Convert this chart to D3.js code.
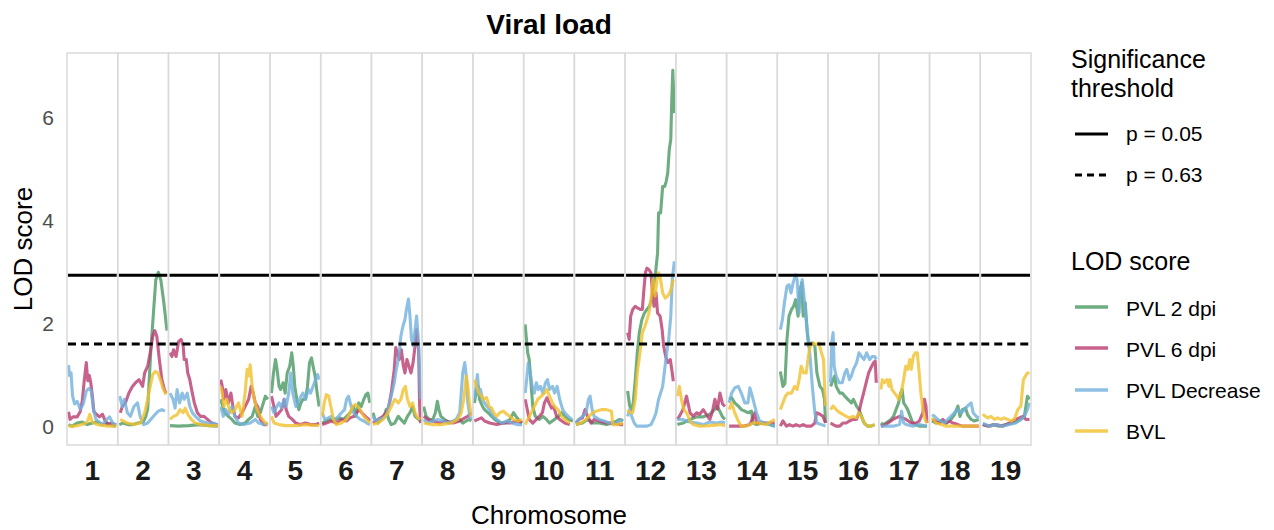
<!DOCTYPE html>
<html><head><meta charset="utf-8">
<script src="https://cdn.jsdelivr.net/npm/d3@7"></script>
<style>
body{margin:0;background:#fff}
svg{display:block}
text{font-family:"Liberation Sans",Arial,Helvetica,sans-serif}
</style>
</head><body><svg id="c" width="1274" height="530"></svg>
<script>
const chromosomes = d3.range(1, 20).map(String);
const yTicks = [0, 2, 4, 6];
const thresholdLabels = ["p = 0.05", "p = 0.63"];
const thresholdValues = [2.94, 1.61];
const seriesNames = ["PVL 2 dpi", "PVL 6 dpi", "PVL Decrease", "BVL"];
const seriesColors = ["#4a9862", "#b93b6f", "#70b0dc", "#f1c02c"];

// each chromosome: flat list of (position % along chromosome, LOD score)
const pvl2dpi = [
 [3,.05,10,.02,20,.08,30,.1,40,.05,50,.08,60,.1,70,.05,80,.08,90,.03,97,.02],
 [3,.05,10,.08,20,.05,30,.05,40,.08,50,.1,55,.2,59,.35,65,1.45,71,2.3,75,2.85,80,3.0,85,2.85,91,2.4,97,1.87],
 [3,.03,20,.02,40,.03,60,.05,80,.03,97,.02],
 [3,.54,7,.4,11,.28,18,.21,25,.15,31,.08,41,.05,51,.08,58,.15,65,.21,71,.4,76,.21,81,.28,87,.47,91,.6,96,.54],
 [3,.66,7,1.05,11,1.31,14,1.12,18,.79,21,.73,26,.86,30,.66,34,1.05,39,1.18,43,1.44,46,1.18,49,.79,53,.54,57,.34,61,.47,65,.54,70,.54,74,.79,78,1.25,82,1.34,85,1.18,89,.99,93,.66,97,.4],
 [3,.08,11,.12,18,.15,25,.12,31,.15,38,.18,45,.15,51,.21,58,.28,65,.4,69,.21,75,.47,80,.4,85,.54,89,.63,93,.66,97,.47],
 [3,.28,7,.15,13,.08,19,.15,25,.21,29,.34,34,.15,39,.05,46,.08,53,.21,58,.15,65,.08,71,.21,76,.28,81,.4,86,.21,93,.15,97,.12],
 [3,.4,8,.21,14,.15,21,.15,26,.28,30,.5,33,.34,37,.21,44,.15,54,.08,64,.12,74,.15,80,.08,87,.12,93,.15,97,.12],
 [3,.47,7,.73,10,.79,13,.54,19,.4,23,.34,30,.28,37,.21,43,.15,53,.08,63,.08,73,.15,80,.28,85,.21,92,.12,97,.08],
 [3,1.99,5,1.76,8,1.44,11,1.31,15,.79,18,.4,23,.21,31,.15,38,.21,45,.15,51,.08,61,.15,68,.21,75,.28,81,.21,88,.15,97,.12],
 [3,.05,16,.08,26,.15,36,.08,49,.08,63,.05,76,.08,89,.15,96,.12],
 [5,.7,9,.41,13,.34,16,.47,20,.92,24,1.44,28,1.83,33,2.08,38,2.21,43,2.28,48,2.34,52,2.47,56,2.73,60,2.99,64,3.37,66,4.15,70,4.15,74,4.66,78,4.66,81,4.76,84,4.92,87,5.37,90,5.57,92,6.34,94,6.91,97,6.08],
 [3,.05,14,.08,28,.15,41,.2,54,.2,67,.25,77,.35,82,.4,87,.3,92,.2,97,.15],
 [5,.54,10,.57,16,.47,23,.41,29,.34,36,.31,42,.28,49,.31,52,.08,59,.05,72,.08,85,.05,95,.02],
 [6,1.08,11,.79,15,.85,19,1.7,23,2.15,28,2.28,32,2.34,36,2.47,41,2.15,44,2.6,48,2.79,51,2.15,55,2.41,59,1.83,62,1.57,66,1.63,70,1.63,74,1.57,78,1.05,84,.79,89,.73,93,.54,95,.08],
 [5,.79,10,.92,13,.99,16,.79,23,.66,28,.66,33,.6,39,.54,46,.47,50,.54,56,.41,61,.34,66,.21,71,.08,78,.02,85,.02,92,.05],
 [4,.08,9,.05,14,.08,20,.12,24,.15,29,.21,34,.34,39,.47,43,.66,46,.73,49,.47,53,.41,57,.34,62,.21,67,.08,72,.05,80,.02,90,.02,95,.02],
 [5,.12,13,.08,23,.12,33,.08,42,.15,49,.24,56,.41,60,.21,65,.34,71,.37,75,.24,82,.15,88,.12,97,.15],
 [5,.05,15,.02,24,.05,37,.02,51,.05,64,.08,74,.12,80,.15,87,.21,93,.6,97,.54]
];
const pvl6dpi = [
 [3,.3,6,.15,12,.2,20,.2,26,.3,30,.5,34,.9,38,1.25,41,.9,44,1.0,47,.85,50,.6,53,.3,58,.25,64,.2,70,.25,74,.15,80,.05,88,.08,94,.05,97,.05],
 [5,.28,9,.4,15,.47,22,.66,29,.79,35,.86,42,.92,49,.79,53,1.05,59,1.18,64,1.44,69,1.76,73,1.87,77,1.76,82,1.31,87,.92,92,.73,95,.66],
 [3,1.44,7,1.37,10,1.5,15,1.37,20,1.66,25,1.7,29,1.57,31,1.31,35,1.31,38,1.05,42,.92,47,.66,51,.47,57,.28,63,.21,70,.21,77,.15,85,.08,93,.05,97,.05],
 [3,.92,6,.79,9,.54,13,.73,18,.47,23,.66,27,.4,31,.21,38,.18,45,.28,51,.4,58,.54,63,.79,67,.66,71,.47,76,.4,81,.15,88,.05,95,.05],
 [3,.6,8,.4,12,.21,18,.28,23,.34,28,.54,32,.34,37,.21,44,.15,51,.08,60,.05,70,.08,80,.05,90,.05,97,.08],
 [3,.05,11,.08,21,.12,31,.08,41,.15,51,.12,58,.18,65,.21,71,.28,76,.34,81,.28,88,.21,95,.15,97,.12],
 [3,.08,13,.15,23,.21,29,.28,34,.4,39,.66,45,1.12,48,1.54,51,1.44,55,1.31,59,1.5,63,1.18,66,1.05,70,1.31,74,1.18,78,1.05,82,1.24,86,1.57,89,1.89,93,1.5,95,.4,97,.08],
 [3,.21,11,.15,21,.12,34,.08,47,.12,61,.08,74,.12,84,.18,90,.21,97,.28],
 [3,.12,10,.15,17,.18,23,.12,33,.08,47,.05,60,.08,73,.08,87,.12,97,.08],
 [3,.54,6,.4,11,.15,18,.08,25,.15,31,.21,37,.28,41,.47,46,.57,50,.47,55,.37,59,.4,65,.21,71,.15,81,.08,91,.05],
 [3,.08,9,.15,16,.18,21,.34,26,.21,33,.08,39,.15,49,.12,63,.08,76,.08,89,.05,96,.05],
 [5,1.83,8,1.7,11,2.15,15,2.28,20,2.34,24,2.31,30,2.28,34,2.28,37,2.66,40,2.99,43,3.08,47,3.05,51,2.99,54,2.6,57,2.34,61,2.6,64,2.21,69,2.15,73,1.89,76,1.57,80,1.37,84,1.25,89,1.31,93,1.05,95,.89],
 [3,.15,7,.21,14,.34,21,.6,28,.28,34,.21,41,.28,47,.25,54,.34,60,.25,67,.15,72,.3,77,.54,82,.35,87,.66,92,.45,97,.4],
 [5,.02,20,.02,33,.02,46,.05,56,.28,59,.08,72,.08,85,.08,95,.08],
 [6,.02,11,.12,18,.02,24,.05,31,.02,37,.05,44,.02,51,.05,57,.02,67,.02,74,.08,77,.28,84,.25,90,.21,95,.08],
 [5,.08,10,.05,16,.02,23,.02,29,.08,36,.08,42,.12,49,.15,56,.15,61,.28,65,.47,70,.66,75,.86,80,1.05,86,1.18,90,1.25,93,1.28,95,.86],
 [4,.02,14,.05,28,.15,34,.18,41,.21,47,.18,54,.15,64,.08,74,.08,80,.12,87,.28,90,.54,93,.41,95,.08],
 [5,.15,13,.12,20,.08,26,.15,33,.08,39,.12,46,.08,56,.05,65,.02,75,.02,85,.02,97,.02],
 [5,.05,18,.02,31,.05,44,.02,57,.08,70,.15,77,.18,84,.21,90,.15,97,.15]
];
const pvlDecrease = [
 [3,1.2,5,1.0,8,1.05,11,.6,15,.45,20,.5,26,.35,32,.45,38,.7,43,.75,48,.7,52,.35,57,.15,63,.1,70,.05,78,.15,84,.2,90,.08,97,.05],
 [4,.6,9,.4,13,.54,19,.28,25,.21,32,.4,39,.47,44,.21,51,.05,59,.08,65,.15,73,.24,80,.31,87,.34,93,.31],
 [3,.66,9,.54,13,.37,17,.73,22,.47,27,.66,31,.54,37,.66,42,.4,47,.28,53,.21,63,.12,77,.08,90,.08,97,.05],
 [3,.4,8,.21,13,.34,18,.25,25,.4,31,.21,38,.08,48,.05,61,.08,71,.15,78,.08,88,.05,96,.08],
 [3,.4,8,.28,12,.37,18,.47,23,.37,28,.54,32,.4,37,.66,41,1.05,45,.66,51,.4,56,.47,61,.6,65,.66,70,.54,76,.73,80,.66,85,.79,90,.92,94,1.02,97,.92],
 [3,.28,8,.15,15,.18,21,.21,28,.15,35,.21,41,.28,47,.34,51,.54,55,.6,60,.4,65,.28,71,.21,78,.15,85,.12,91,.08,97,.05],
 [3,.21,9,.12,16,.15,23,.18,29,.21,34,.4,39,.6,45,.86,49,1.12,54,1.37,58,1.76,62,1.95,66,2.08,69,2.28,73,2.48,76,2.15,79,1.7,83,1.57,86,1.89,89,2.15,93,1.63,96,.79,97,.54],
 [3,.15,11,.08,21,.12,31,.15,41,.12,51,.08,61,.12,67,.15,74,.28,77,.66,80,1.05,84,1.25,87,.99,90,.47,94,.21,97,.15],
 [3,.54,7,.86,9,1.02,12,.66,15,.73,19,.54,23,.47,28,.4,33,.34,40,.21,47,.15,57,.08,67,.12,77,.08,87,.05,97,.05],
 [3,.66,6,.92,9,1.24,13,1.05,17,.79,21,.66,25,.86,29,.73,33,.79,38,.66,43,.86,47,.92,51,.73,57,.79,61,.66,66,.79,71,.54,77,.34,81,.28,88,.21,95,.15],
 [3,.08,9,.15,16,.21,23,.28,28,.54,31,.6,35,.34,39,.21,49,.15,59,.12,69,.08,83,.08,96,.15],
 [5,.21,9,.34,13,.21,18,.08,23,.02,33,.02,43,.02,51,.05,56,.15,61,.28,66,.54,70,.66,74,.79,78,1.12,82,1.44,86,1.7,90,2.15,93,2.86,97,3.21],
 [3,.15,14,.15,28,.1,41,.08,54,.05,67,.1,80,.08,90,.1,97,.08],
 [5,.47,10,.66,16,.76,23,.79,29,.66,36,.47,42,.47,46,.76,49,.66,54,.47,59,.28,65,.12,75,.08,85,.05,95,.02],
 [6,1.89,10,2.08,14,2.41,19,2.73,23,2.76,27,2.6,31,2.79,36,2.95,39,2.86,43,2.21,45,2.6,49,2.86,52,2.6,56,2.15,61,1.7,65,1.31,69,.79,74,.28,78,.08,87,.05,95,.02],
 [5,.86,7,1.63,10,1.83,12,1.18,16,.99,22,.86,28,.86,33,1.05,37,1.12,42,.92,46,.99,50,1.12,56,1.24,61,1.44,66,1.37,71,1.31,76,1.44,82,1.31,87,1.37,92,1.37,95,1.31],
 [4,.02,14,.02,28,.02,41,.05,45,.31,49,.08,54,.05,67,.02,80,.05,95,.02],
 [5,.24,10,.21,16,.15,23,.12,29,.08,36,.15,42,.21,49,.28,56,.34,62,.28,69,.34,75,.41,82,.47,86,.28,92,.21,97,.18],
 [5,.08,18,.02,31,.05,44,.02,57,.05,70,.08,80,.15,87,.21,93,.34,97,.47]
];
const bvl = [
 [3,.02,15,.02,30,.05,40,.1,45,.25,50,.1,60,.05,80,.02,97,.02],
 [5,.15,19,.08,32,.05,45,.08,53,.28,59,.54,64,.79,69,1.02,74,1.08,79,1.05,84,.92,89,.76,95,.63],
 [3,.15,10,.21,17,.24,23,.34,29,.28,33,.37,38,.25,45,.15,53,.08,63,.05,83,.03,97,.03],
 [3,.79,6,.66,9,.4,15,.54,20,.34,25,.28,31,.34,38,.47,45,.21,51,.66,55,1.12,58,.99,61,1.21,65,.79,69,.54,75,.34,81,.21,88,.12,95,.05],
 [3,.21,8,.08,18,.05,31,.03,51,.03,70,.05,97,.03],
 [3,.21,7,.47,11,.63,16,.6,20,.4,25,.15,31,.05,41,.08,51,.15,58,.28,63,.4,68,.44,73,.4,78,.34,85,.21,91,.15,97,.08],
 [3,.05,13,.08,23,.15,33,.28,39,.4,46,.54,53,.47,58,.54,63,.73,67,.79,71,.54,76,.4,81,.47,86,.28,91,.18,97,.15],
 [3,.08,18,.05,37,.05,57,.08,70,.15,77,.28,82,.54,87,.99,90,.79,93,.47,97,.21],
 [3,.92,7,.79,12,.66,17,.6,21,.54,27,.57,32,.4,37,.37,41,.28,47,.21,53,.28,60,.31,67,.25,73,.21,80,.15,90,.12,97,.15],
 [3,.05,8,.15,15,.28,21,.4,28,.54,35,.6,41,.66,46,.73,51,.6,57,.47,61,.4,68,.34,75,.21,81,.15,91,.08],
 [3,.05,13,.08,23,.15,29,.21,36,.28,43,.31,53,.34,63,.34,73,.31,76,.05,86,.05,96,.08],
 [5,.34,10,.28,15,.28,20,.54,24,1.05,30,1.5,34,1.83,39,1.95,43,2.08,47,2.21,51,2.47,55,2.86,59,2.54,63,2.86,66,2.99,70,2.86,74,2.6,79,2.5,84,2.54,88,2.6,92,2.73,95,2.86],
 [3,.6,7,.79,11,.54,16,.34,21,.28,28,.12,34,.05,47,.02,67,.03,87,.05,97,.03],
 [5,.34,10,.47,16,.28,23,.12,29,.02,39,.02,52,.08,62,.08,78,.05,95,.15],
 [6,.34,11,.47,16,.6,21,.66,28,.66,34,.79,39,.73,43,.92,47,1.18,52,1.05,57,1.05,61,1.37,65,1.57,70,1.63,77,1.6,82,1.63,87,1.44,91,1.31,95,.41],
 [5,.34,10,.41,16,.34,23,.28,29,.25,36,.21,42,.18,49,.21,56,.18,61,.28,65,.21,72,.08,78,.02,85,.02,92,.05],
 [4,.73,7,.92,11,.86,16,.92,20,.79,22,.92,26,.73,31,.66,36,.6,39,.54,44,.66,49,.92,53,1.18,57,1.12,61,1.31,64,1.12,68,1.37,72,1.44,76,1.44,79,1.12,83,.66,87,.34,91,.15,95,.08],
 [5,.18,13,.08,23,.05,33,.02,46,.02,59,.02,72,.02,85,.02,97,.02],
 [5,.25,10,.21,15,.18,21,.21,28,.15,34,.18,41,.15,47,.18,54,.15,61,.12,67,.15,74,.34,80,.41,85,.92,89,.99,93,1.05,97,1.05]
];

const seriesData = [pvl2dpi, pvl6dpi, pvlDecrease, bvl];
const toPairs = flat => d3.range(0, flat.length, 2).map(i => [flat[i], flat[i + 1]]);

const svg = d3.select("#c");
const plotTop = 53, plotBottom = 445, plotLeft = 67, plotRight = 1031;
const x = d3.scaleBand().domain(chromosomes).range([plotLeft, plotRight]).paddingInner(0).paddingOuter(0);
const y = d3.scaleLinear().domain([-0.345, 7.245]).range([plotBottom, plotTop]);
const px = d3.scaleLinear().domain([0, 100]).range([0, x.bandwidth()]);

const defs = svg.append("defs");
chromosomes.forEach((c, i) => {
  defs.append("clipPath").attr("id", "clip" + i).append("rect")
    .attr("x", x(c)).attr("y", plotTop).attr("width", x.bandwidth()).attr("height", plotBottom - plotTop);
});

// panels
const panels = svg.append("g");
chromosomes.forEach((c, i) => {
  const g = panels.append("g").attr("clip-path", "url(#clip" + i + ")");
  seriesData.forEach((s, k) => {
    const line = d3.line().x(d => x(c) + px(d[0])).y(d => y(d[1]));
    g.append("path").attr("d", line(toPairs(s[i])))
      .attr("fill", "none").attr("stroke", seriesColors[k])
      .attr("stroke-opacity", 0.8).attr("stroke-width", 3.1)
      .attr("stroke-linejoin", "round").attr("stroke-linecap", "butt");
  });
  thresholdValues.forEach((t, j) => {
    g.append("line").attr("x1", x(c) + 1).attr("x2", x(c) + x.bandwidth() - 1)
      .attr("y1", y(t)).attr("y2", y(t))
      .attr("stroke", "#000").attr("stroke-width", 3)
      .attr("stroke-dasharray", j === 1 ? "8,5" : null);
  });
  panels.append("rect").attr("x", x(c)).attr("y", plotTop)
    .attr("width", x.bandwidth()).attr("height", plotBottom - plotTop)
    .attr("fill", "none").attr("stroke", "#dadada").attr("stroke-width", 1.5);
});

// axes
const ya = svg.append("g").attr("transform", `translate(${plotLeft},0)`)
  .call(d3.axisLeft(y).tickValues(yTicks).tickSize(0).tickPadding(13));
ya.select(".domain").remove();
ya.selectAll("text").attr("font-size", 21).attr("fill", "#4d4d4d")
  .attr("font-family", '"Liberation Sans",Arial,sans-serif');

const xa = svg.append("g").attr("transform", `translate(0,${plotBottom})`)
  .call(d3.axisBottom(x).tickSize(0).tickPadding(15));
xa.select(".domain").remove();
xa.selectAll("text").attr("font-size", 28).attr("font-weight", "bold").attr("fill", "#1a1a1a")
  .attr("font-family", '"Liberation Sans",Arial,sans-serif');

// titles
svg.append("text").attr("x", (plotLeft + plotRight) / 2).attr("y", 34).attr("text-anchor", "middle")
  .attr("font-size", 28).attr("font-weight", "bold").text("Viral load");
svg.append("text").attr("x", (plotLeft + plotRight) / 2).attr("y", 524).attr("text-anchor", "middle")
  .attr("font-size", 26).text("Chromosome");
svg.append("text").attr("transform", "translate(32,249) rotate(-90)").attr("text-anchor", "middle")
  .attr("font-size", 26).text("LOD score");

// legend: thresholds
const lg = svg.append("g");
lg.append("text").attr("x", 1071).attr("y", 68).attr("font-size", 25).text("Significance");
lg.append("text").attr("x", 1071).attr("y", 97).attr("font-size", 25).text("threshold");
const thrKeyY = [134, 175], thrTextY = [141, 182];
thresholdLabels.forEach((lab, j) => {
  lg.append("line").attr("x1", 1075).attr("x2", 1108).attr("y1", thrKeyY[j]).attr("y2", thrKeyY[j])
    .attr("stroke", "#000").attr("stroke-width", 3).attr("stroke-dasharray", j === 1 ? "7,5" : null);
  lg.append("text").attr("x", 1126).attr("y", thrTextY[j]).attr("font-size", 21).text(lab);
});
// legend: series
lg.append("text").attr("x", 1071).attr("y", 270).attr("font-size", 25).text("LOD score");
const serKeyY = [307, 348, 390, 431], serTextY = [316, 357, 398, 439];
seriesNames.forEach((n, k) => {
  lg.append("line").attr("x1", 1075).attr("x2", 1108).attr("y1", serKeyY[k]).attr("y2", serKeyY[k])
    .attr("stroke", seriesColors[k]).attr("stroke-opacity", 0.8).attr("stroke-width", 3.4);
  lg.append("text").attr("x", 1126).attr("y", serTextY[k]).attr("font-size", 21).text(n);
});
</script>
</body></html>
